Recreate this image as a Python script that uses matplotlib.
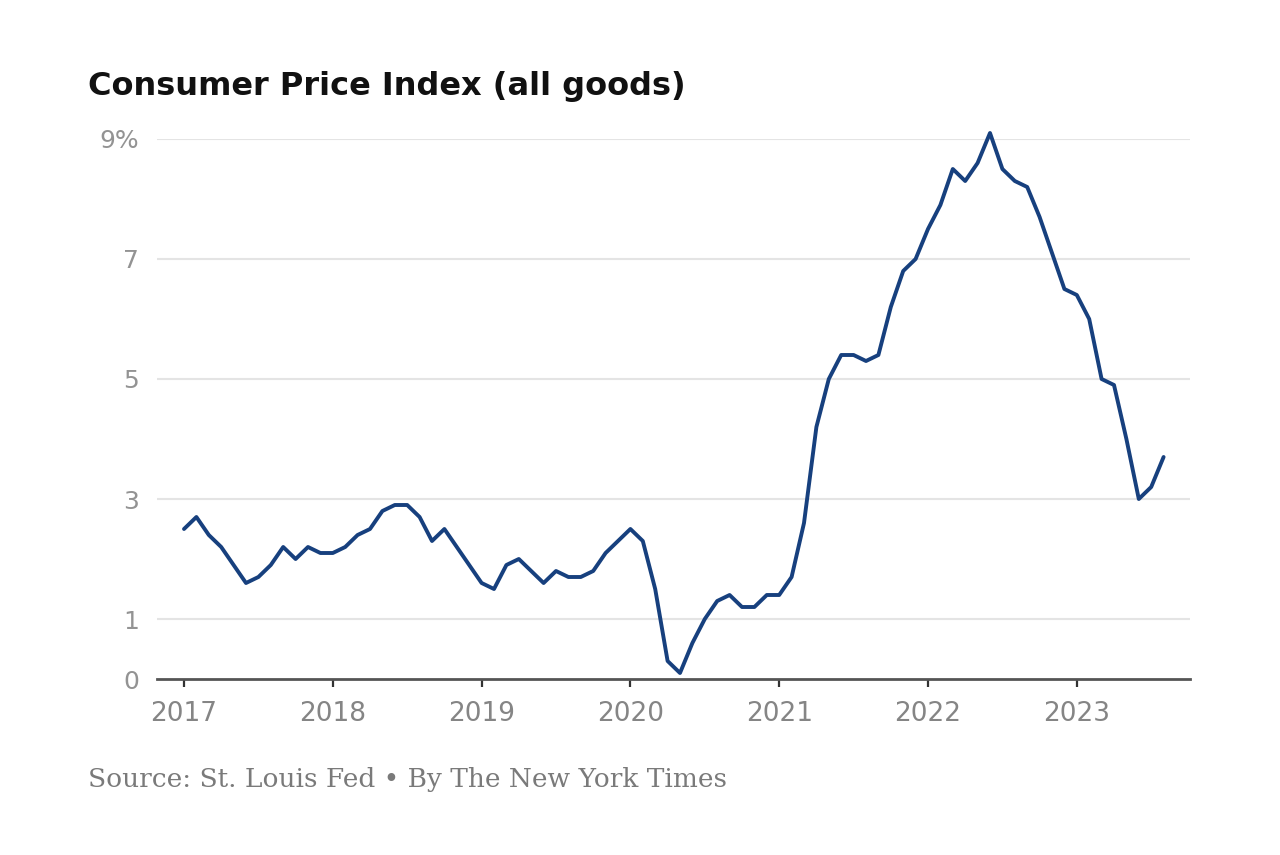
import numpy as np
import matplotlib
matplotlib.use("Agg")
import matplotlib.pyplot as plt

# year-over-year CPI change, monthly, Jan 2017 .. Aug 2023
cpi_2017 = [2.5, 2.7, 2.4, 2.2, 1.9, 1.6, 1.7, 1.9, 2.2, 2.0, 2.2, 2.1]
cpi_2018 = [2.1, 2.2, 2.4, 2.5, 2.8, 2.9, 2.9, 2.7, 2.3, 2.5, 2.2, 1.9]
cpi_2019 = [1.6, 1.5, 1.9, 2.0, 1.8, 1.6, 1.8, 1.7, 1.7, 1.8, 2.1, 2.3]
cpi_2020 = [2.5, 2.3, 1.5, 0.3, 0.1, 0.6, 1.0, 1.3, 1.4, 1.2, 1.2, 1.4]
cpi_2021 = [1.4, 1.7, 2.6, 4.2, 5.0, 5.4, 5.4, 5.3, 5.4, 6.2, 6.8, 7.0]
cpi_2022 = [7.5, 7.9, 8.5, 8.3, 8.6, 9.1, 8.5, 8.3, 8.2, 7.7, 7.1, 6.5]
cpi_2023 = [6.4, 6.0, 5.0, 4.9, 4.0, 3.0, 3.2, 3.7]

years = [2017, 2018, 2019, 2020, 2021, 2022, 2023]
y_ticks = [0, 1, 3, 5, 7, 9]
y_labels = ["0", "1", "3", "5", "7", "9%"]

values = cpi_2017 + cpi_2018 + cpi_2019 + cpi_2020 + cpi_2021 + cpi_2022 + cpi_2023
months = 2017 + np.arange(len(values)) / 12.0

fig = plt.figure(figsize=(12.8, 8.55), dpi=100)
ax = fig.add_axes([157 / 1280, 1 - 679 / 855, (1190 - 157) / 1280, (679 - 139) / 855])

ax.plot(months, values, color="#17407e", lw=2.8, solid_joinstyle="round",
        solid_capstyle="round", clip_on=False, zorder=3)

ax.set_xlim(2017 - 27 / 148.8, 2017 + 1006 / 148.8)
ax.set_ylim(0, 9)

ax.set_yticks(y_ticks)
ax.set_yticklabels(y_labels)
ax.set_xticks(years)
ax.set_xticklabels([str(y) for y in years])

for v in y_ticks[1:]:
    ax.axhline(v, color="#e4e4e4", lw=1.5, zorder=1)

for s in ["top", "right", "left"]:
    ax.spines[s].set_visible(False)
ax.spines["bottom"].set_color("#555555")
ax.spines["bottom"].set_linewidth(2)
ax.spines["bottom"].set_zorder(4)

ax.tick_params(axis="y", length=0, pad=13, labelsize=18, labelcolor="#939393")
ax.tick_params(axis="x", length=6, width=1.6, color="#333333", pad=10,
               labelsize=19, labelcolor="#858585")
for lab in ax.get_xticklabels() + ax.get_yticklabels():
    lab.set_family("DejaVu Sans")

fig.text(88 / 1280, 1 - 86 / 855, "Consumer Price Index (all goods)",
         fontsize=23, fontweight="bold", family="DejaVu Sans",
         color="#111111", va="center", ha="left")

fig.text(88 / 1280, 1 - 779 / 855, "Source: St. Louis Fed \u2022 By The New York Times",
         fontsize=19, family="DejaVu Serif", color="#7a7a7a",
         va="center", ha="left")

fig.savefig("out.png", dpi=100, facecolor="white")
